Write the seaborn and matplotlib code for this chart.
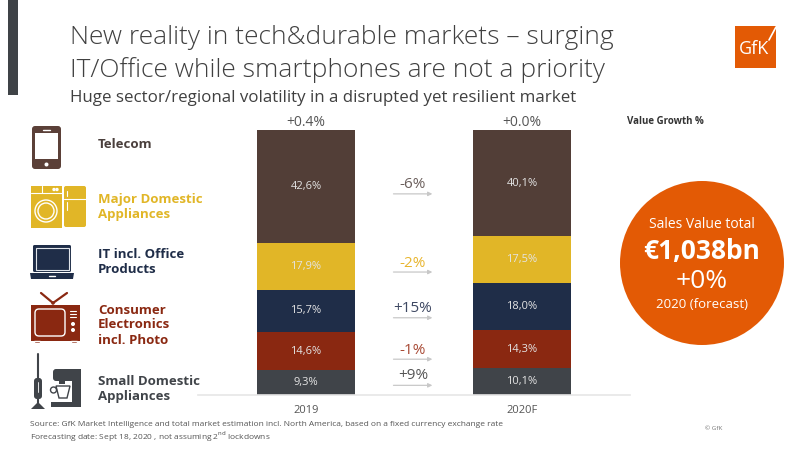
import matplotlib
matplotlib.use("Agg")
import matplotlib.pyplot as plt
import seaborn as sns
import pandas as pd
import numpy as np
from matplotlib.patches import Rectangle, FancyBboxPatch, Circle, Polygon

# ---------------- data ----------------
years = ["2019", "2020F"]
segments = ["Telecom", "Major Domestic Appliances", "IT incl. Office Products",
            "Consumer Electronics incl. Photo", "Small Domestic Appliances"]
share_2019 = [42.6, 17.9, 15.7, 14.6, 9.3]
share_2020 = [40.1, 17.5, 18.0, 14.3, 10.1]
share_labels_2019 = ["42,6%", "17,9%", "15,7%", "14,6%", "9,3%"]
share_labels_2020 = ["40,1%", "17,5%", "18,0%", "14,3%", "10,1%"]
total_growth = ["+0.4%", "+0.0%"]
segment_growth = ["-6%", "-2%", "+15%", "-1%", "+9%"]
side_labels = ["Telecom", "Major Domestic\nAppliances", "IT incl. Office\nProducts",
               "Consumer\nElectronics\nincl. Photo", "Small Domestic\nAppliances"]

seg_colors = ["#523E37", "#E1B627", "#1F2D48", "#8A2811", "#404449"]
label_colors = ["#4A3F3C", "#E1B627", "#1F2D48", "#8A2811", "#404449"]
growth_colors = ["#6B5F5C", "#E8B52E", "#3E4862", "#A84A35", "#555555"]

sns.set_theme(style="white")
plt.rcParams["font.family"] = ["Open Sans", "DejaVu Sans"]

fig = plt.figure(figsize=(8, 4.5), dpi=100)

# background overlay axes in pixel coords
bg = fig.add_axes([0, 0, 1, 1])
bg.set_xlim(0, 800)
bg.set_ylim(450, 0)
bg.axis("off")

# ---------------- bars ----------------
ax = fig.add_axes([198 / 800, (450 - 395) / 450, 432 / 800, 265 / 450])
rows = []
for yi, vals in zip(years, [share_2019, share_2020]):
    rev = vals[::-1]
    cum = np.cumsum(rev)[::-1]
    for seg, c, v in zip(segments, cum, vals):
        rows.append({"year": yi, "segment": seg, "cum": c, "share": v})
df = pd.DataFrame(rows)

for seg, col in zip(segments, seg_colors):
    sub = df[df["segment"] == seg]
    sns.barplot(data=sub, x="year", y="cum", color=col, saturation=1,
                width=0.454, ax=ax, order=years, errorbar=None,
                linewidth=0, edgecolor="none")

ax.set_xlim(-0.5, 1.5)
ax.set_ylim(0, 100.1)
ax.set_xlabel("")
ax.set_ylabel("")
ax.set_yticks([])
for s in ["top", "left", "right"]:
    ax.spines[s].set_visible(False)
ax.spines["bottom"].set_color("#E6E6E6")
ax.spines["bottom"].set_linewidth(1.2)
ax.tick_params(axis="x", length=0, pad=7, labelsize=8, labelcolor="#555555")
ax.set_facecolor("none")

# value labels inside bars
for xi, (yr, labs) in enumerate(zip(years, [share_labels_2019, share_labels_2020])):
    sub = df[df["year"] == yr].reset_index(drop=True)
    for i in range(len(segments)):
        top = sub.loc[i, "cum"]
        mid = top - sub.loc[i, "share"] / 2
        ax.text(xi, mid, labs[i], ha="center", va="center", fontsize=8, color="#E4E4E4")
    ax.text(xi, 100.1 + 3.0, total_growth[xi], ha="center", va="center",
            fontsize=10, color="#555555", clip_on=False)

# growth labels with arrows
s19 = df[df["year"] == "2019"].reset_index(drop=True)
s20 = df[df["year"] == "2020F"].reset_index(drop=True)
for i in range(len(segments)):
    m1 = s19.loc[i, "cum"] - s19.loc[i, "share"] / 2
    m2 = s20.loc[i, "cum"] - s20.loc[i, "share"] / 2
    mid = (m1 + m2) / 2
    ty = mid + 0.0
    ay = mid - 3.4
    if i == len(segments) - 1:
        ty = mid + 2.5
        ay = mid - 1.2
    ax.text(0.495, ty, segment_growth[i], ha="center", va="center",
            fontsize=11, color=growth_colors[i])
    ax.annotate("", xy=(0.585, ay), xytext=(0.405, ay),
                arrowprops=dict(arrowstyle="-|>", color="#C8C8C8", lw=0.9,
                                mutation_scale=6, shrinkA=0, shrinkB=0))

# ---------------- header ----------------
bg.add_patch(Rectangle((8, 0), 10, 95, color="#3F4347", lw=0))
bg.text(70, 38, "New reality in tech&durable markets \u2013 surging", fontsize=19,
        color="#404040", va="center", ha="left", fontweight="light")
bg.text(70, 70, "IT/Office while smartphones are not a priority", fontsize=19,
        color="#404040", va="center", ha="left", fontweight="light")
bg.text(70, 98, "Huge sector/regional volatility in a disrupted yet resilient market",
        fontsize=12.2, color="#404040", va="center", ha="left")

# GfK logo
bg.add_patch(Rectangle((735, 26), 41, 42, color="#E35A05", lw=0))
bg.plot([769, 776], [40, 27], color="white", lw=1.2)
bg.text(754, 49, "GfK", fontsize=13, color="white", ha="center", va="center")

bg.text(627, 122, "Value Growth %", fontsize=7, color="#333333", fontweight="bold",
        ha="left", va="center")

# ---------------- circle ----------------
bg.add_patch(Circle((702, 263), 82, color="#E35A05", lw=0))
bg.text(702, 224, "Sales Value total", fontsize=10, color="white", ha="center", va="center")
bg.text(702, 251, "\u20ac1,038bn", fontsize=19, color="white", ha="center", va="center",
        fontweight="bold")
bg.text(702, 281, "+0%", fontsize=19, color="white", ha="center", va="center")
bg.text(702, 304, "2020 (forecast)", fontsize=9.5, color="white", ha="center", va="center")

# ---------------- side labels ----------------
label_y = [145, 207, 262, 325, 389]
for txt, y, c in zip(side_labels, label_y, label_colors):
    bg.text(98, y, txt, fontsize=9.5, fontweight="bold", color=c, ha="left", va="center",
            linespacing=1.2)

# icons
# phone
bg.add_patch(FancyBboxPatch((32, 126), 29, 43, boxstyle="round,pad=0,rounding_size=3",
                            fc="#5B4038", ec="none"))
bg.add_patch(Rectangle((35, 133), 23, 26, fc="white", ec="none"))
bg.add_patch(Circle((46.5, 164.5), 2, fc="white", ec="none"))
bg.plot([43, 50], [129.5, 129.5], color="white", lw=1)
# washer + fridge
ycol = "#E1B627"
bg.add_patch(Rectangle((31, 186), 31, 42, fc=ycol, ec="none"))
bg.plot([31, 62], [192.5, 192.5], color="white", lw=0.8)
bg.plot([42, 42], [186, 192.5], color="white", lw=0.8)
bg.add_patch(Circle((54, 189.5), 1, fc="white"))
bg.add_patch(Circle((57, 189.5), 1, fc="white"))
bg.add_patch(Circle((46, 211), 11, fc="none", ec="white", lw=1))
bg.add_patch(Circle((46, 211), 8, fc="none", ec="white", lw=1))
bg.add_patch(FancyBboxPatch((64, 186), 22, 41, boxstyle="round,pad=0,rounding_size=2",
                            fc=ycol, ec="none"))
bg.plot([64, 86], [199, 199], color="white", lw=0.8)
bg.plot([67, 67], [191, 196], color="white", lw=0.8)
bg.plot([67, 67], [202, 210], color="white", lw=0.8)
# laptop
ncol = "#1F2D48"
bg.add_patch(FancyBboxPatch((33, 245), 38, 27, boxstyle="round,pad=0,rounding_size=1.5",
                            fc=ncol, ec="none"))
bg.add_patch(Rectangle((35.5, 247.5), 33, 22, fc=ncol, ec="#E0E4EA", lw=0.8))
bg.add_patch(Polygon([[30, 273], [74, 273], [73, 279], [31, 279]], closed=True, fc=ncol, ec="none"))
bg.plot([49, 55], [275.5, 275.5], color="white", lw=1)
# TV
rcol = "#8A2811"
bg.plot([53, 41], [303, 293], color=rcol, lw=1.6)
bg.plot([53, 67], [303, 293], color=rcol, lw=1.6)
bg.add_patch(Circle((53, 303), 2.5, fc=rcol))
bg.add_patch(Rectangle((31, 305), 49, 36, fc=rcol, ec="none"))
bg.add_patch(FancyBboxPatch((35, 309), 30, 27, boxstyle="round,pad=0,rounding_size=4",
                            fc=rcol, ec="white", lw=1))
for yy in [311, 314, 317]:
    bg.plot([70, 76], [yy, yy], color="white", lw=0.8)
bg.add_patch(Circle((73, 324), 1.3, fc="white"))
bg.add_patch(Circle((73, 330), 1.3, fc="white"))
bg.add_patch(Rectangle((34, 341), 6, 2, fc=rcol))
bg.add_patch(Rectangle((71, 341), 6, 2, fc=rcol))
# vacuum + mixer
gcol = "#404449"
bg.plot([38, 38], [354, 380], color=gcol, lw=1.5)
bg.add_patch(FancyBboxPatch((34, 378), 8, 21, boxstyle="round,pad=0,rounding_size=3",
                            fc=gcol, ec="none"))
bg.plot([38, 38], [382, 392], color="white", lw=0.6)
bg.plot([38, 38], [399, 403], color=gcol, lw=1.5)
bg.add_patch(Polygon([[31, 409], [45, 409], [38, 402]], closed=True, fc=gcol, ec="none"))
bg.add_patch(FancyBboxPatch((53, 369), 28, 12, boxstyle="round,pad=0,rounding_size=3",
                            fc=gcol, ec="none"))
bg.add_patch(Rectangle((72, 369), 9, 38, fc=gcol, ec="none"))
bg.add_patch(Rectangle((51, 402), 30, 5, fc=gcol, ec="none"))
bg.add_patch(Rectangle((59, 381), 6, 3, fc=gcol, ec="none"))
bg.add_patch(Polygon([[56, 386], [70, 386], [67, 398], [59, 398]], closed=True,
                     fc="white", ec=gcol, lw=1))
bg.add_patch(Circle((53.5, 390), 3, fc="none", ec=gcol, lw=1))

# ---------------- footer ----------------
bg.text(30, 425, "Source: GfK Market Intelligence and total market estimation incl. North America, "
        "based on a fixed currency exchange rate", fontsize=6, color="#555555", ha="left", va="center")
bg.text(30, 437, "Forecasting date: Sept 18, 2020 , not assuming 2$^{\\rm nd}$ lockdowns",
        fontsize=6, color="#555555", ha="left", va="center")
bg.text(705, 428, "\u00a9 GfK", fontsize=4.5, color="#777777", ha="left", va="center")

fig.savefig("out.png", dpi=100)
